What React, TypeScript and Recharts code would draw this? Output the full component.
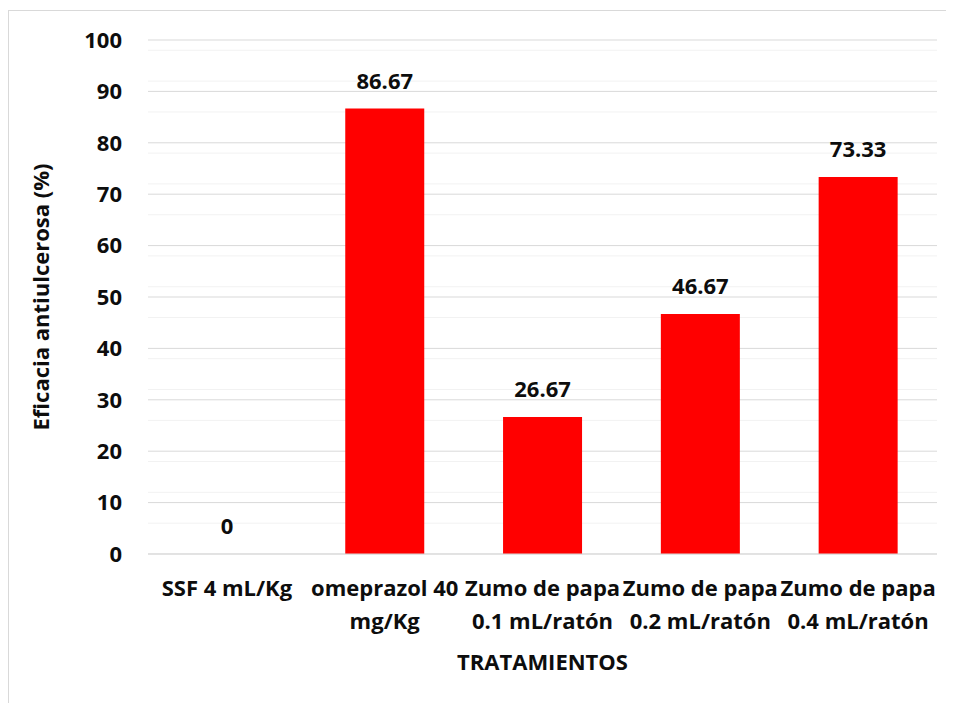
import { Bar, BarChart, CartesianGrid, Label, LabelList, XAxis, YAxis } from "recharts";

const categories = [
  "SSF 4 mL/Kg",
  "omeprazol 40\nmg/Kg",
  "Zumo de papa\n0.1 mL/ratón",
  "Zumo de papa\n0.2 mL/ratón",
  "Zumo de papa\n0.4 mL/ratón",
];
const eficacia = [0, 86.67, 26.67, 46.67, 73.33];
const yTicks = [0, 10, 20, 30, 40, 50, 60, 70, 80, 90, 100];
const minorTicks = [
  2, 4, 6, 8, 12, 14, 16, 18, 22, 24, 26, 28, 32, 34, 36, 38, 42, 44, 46, 48,
  52, 54, 56, 58, 62, 64, 66, 68, 72, 74, 76, 78, 82, 84, 86, 88, 92, 94, 96, 98,
];

const data = categories.map((name, i) => ({ name, value: eficacia[i] }));

const FONT = "'Open Sans', sans-serif";
const TEXT = "#0d0d0d";
const MAJOR = "#d9d9d9";
const MINOR = "#f2f2f2";
const FS = 22;

function CategoryTick({ x, y, payload }: { x?: number; y?: number; payload?: { value: string } }) {
  const lines = String(payload?.value ?? "").split("\n");
  return (
    <g transform={`translate(${x},${y})`}>
      {lines.map((l, i) => (
        <text
          key={i}
          x={0}
          y={34 + i * 33}
          textAnchor="middle"
          fill={TEXT}
          fontSize={FS}
          fontWeight={700}
          fontFamily={FONT}
        >
          {l}
        </text>
      ))}
    </g>
  );
}

export default function App() {
  return (
    <div
      style={{
        marginTop: 2,
        width: 946,
        height: 693,
        borderTop: "1px solid #d9d9d9",
        borderLeft: "1px solid #d9d9d9",
        boxSizing: "border-box",
        background: "#fff",
      }}
    >
      <BarChart
        width={945}
        height={692}
        data={data}
        margin={{ top: 29, right: 17, bottom: 0, left: 0 }}
        barCategoryGap="25%"
      >
        <CartesianGrid
          vertical={false}
          stroke={MINOR}
          horizontalValues={minorTicks}
        />
        <CartesianGrid vertical={false} stroke={MAJOR} horizontalValues={yTicks} />
        <XAxis
          dataKey="name"
          height={149}
          tickLine={false}
          axisLine={{ stroke: MAJOR }}
          interval={0}
          tick={<CategoryTick />}
        >
          <Label
            value="TRATAMIENTOS"
            position="insideBottom"
            offset={33}
            fill={TEXT}
            fontSize={FS}
            fontWeight={700}
            fontFamily={FONT}
          />
        </XAxis>
        <YAxis
          domain={[0, 100]}
          ticks={yTicks}
          width={139}
          tickLine={false}
          tickSize={0}
          tickMargin={26}
          axisLine={false}
          tick={{ fill: TEXT, fontSize: FS, fontWeight: 700, fontFamily: FONT }}
        >
          <Label
            content={({ viewBox }: any) => {
              const cy = viewBox.y + viewBox.height / 2;
              return (
                <text
                  x={31}
                  y={cy}
                  transform={`rotate(-90, 31, ${cy})`}
                  textAnchor="middle"
                  dominantBaseline="central"
                  fill={TEXT}
                  fontSize={FS}
                  fontWeight={700}
                  fontFamily={FONT}
                >
                  Eficacia antiulcerosa (%)
                </text>
              );
            }}
          />
        </YAxis>
        <Bar dataKey="value" fill="#ff0000" minPointSize={0.01} isAnimationActive={false}>
          <LabelList
            dataKey="value"
            position="top"
            offset={20}
            fill={TEXT}
            fontSize={FS}
            fontWeight={700}
            fontFamily={FONT}
          />
        </Bar>
      </BarChart>
    </div>
  );
}
